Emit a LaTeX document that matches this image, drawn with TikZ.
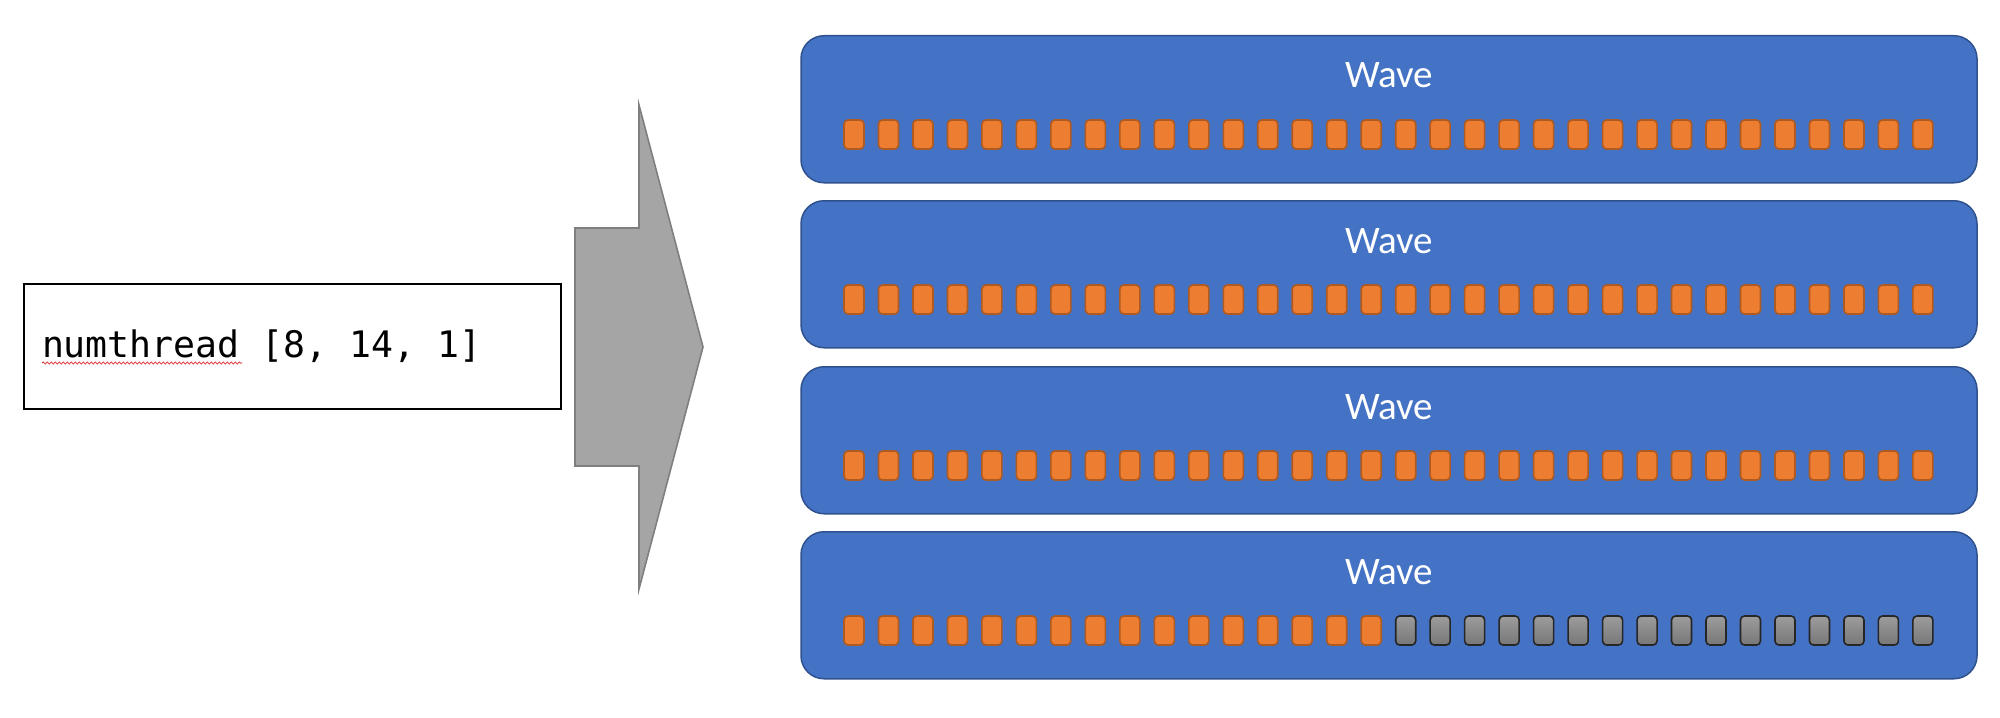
\documentclass[tikz,border=0pt]{standalone}
\usepackage{fontspec}
\newfontfamily\codefont{DejaVu Sans Mono}
\newfontfamily\wavefont{Carlito}
\usetikzlibrary{decorations.pathmorphing}
\newcommand\codespace{\hspace*{0.602em}}
\definecolor{waveblue}{HTML}{4472C4}
\definecolor{waveedge}{HTML}{2F528F}
\definecolor{busyfill}{HTML}{ED7D31}
\definecolor{busyedge}{HTML}{AE5A21}
\definecolor{idletop}{HTML}{9C9C9C}
\definecolor{idlebottom}{HTML}{777777}
\definecolor{idleedge}{HTML}{262626}
\definecolor{arrowfill}{HTML}{A5A5A5}
\definecolor{arrowedge}{HTML}{7F7F7F}
\definecolor{spellred}{HTML}{E04848}

\tikzset{
  codebox/.style={draw=black, line width=1.2pt, minimum height=62.5pt, inner xsep=9pt,
    text width=250.5pt, align=left, font=\codefont\fontsize{18.25}{22}\selectfont},
  wavebox/.style={draw=waveedge, fill=waveblue, line width=0.75pt, rounded corners=11.5pt,
    minimum width=588pt, minimum height=73.5pt, inner sep=0pt},
  wavelabel/.style={anchor=base, text=white, inner sep=0pt, font=\wavefont\fontsize{19.5}{23}\selectfont},
  lane/.style={line width=0.8pt, rounded corners=2pt, minimum width=10pt, minimum height=14.5pt, inner sep=0pt},
  busy/.style={lane, draw=busyedge, fill=busyfill},
  idle/.style={lane, draw=idleedge, top color=idletop, bottom color=idlebottom},
  bigarrow/.style={draw=arrowedge, fill=arrowfill, line width=0.8pt, line join=miter}
}

\begin{document}
\begin{tikzpicture}[x=0.5pt, y=-0.5pt]
  \useasboundingbox (0,0) rectangle (2000,717);
  %%%%% START %%%%%
  % launch size
  \node[codebox] (launch) at (292.5, 346.5) {numthread\codespace[8,\codespace14,\codespace1]};
  \draw[spellred, line width=0.5pt, decorate, decoration={snake, amplitude=0.5pt, segment length=2pt}]
    (42, 363) -- (242, 363);

  % block arrow
  \draw[bigarrow] (575, 228) -- (639, 228) -- (639, 105) -- (703, 347)
    -- (639, 589) -- (639, 466) -- (575, 466) -- cycle;

  % waves of 32 lanes, 112 threads in all
  \foreach \row/\top in {1/35, 2/200, 3/366, 4/531} {
    \node[wavebox, anchor=north] (wave\row) at (1389, \top) {};
    \path (wave\row.north) ++(0, 53) node[wavelabel] (wavename\row) {Wave};
    \foreach \lane in {0,...,31} {
      \pgfmathtruncatemacro\tid{(\row-1)*32+\lane}
      \ifnum\tid<112
        \node[busy] (t\row-\lane) at (854+34.48*\lane, \top+99.5) {};
      \else
        \node[idle] (t\row-\lane) at (854+34.48*\lane, \top+99.5) {};
      \fi
    }
  }
  %%%%% END %%%%%
\end{tikzpicture}
\end{document}
